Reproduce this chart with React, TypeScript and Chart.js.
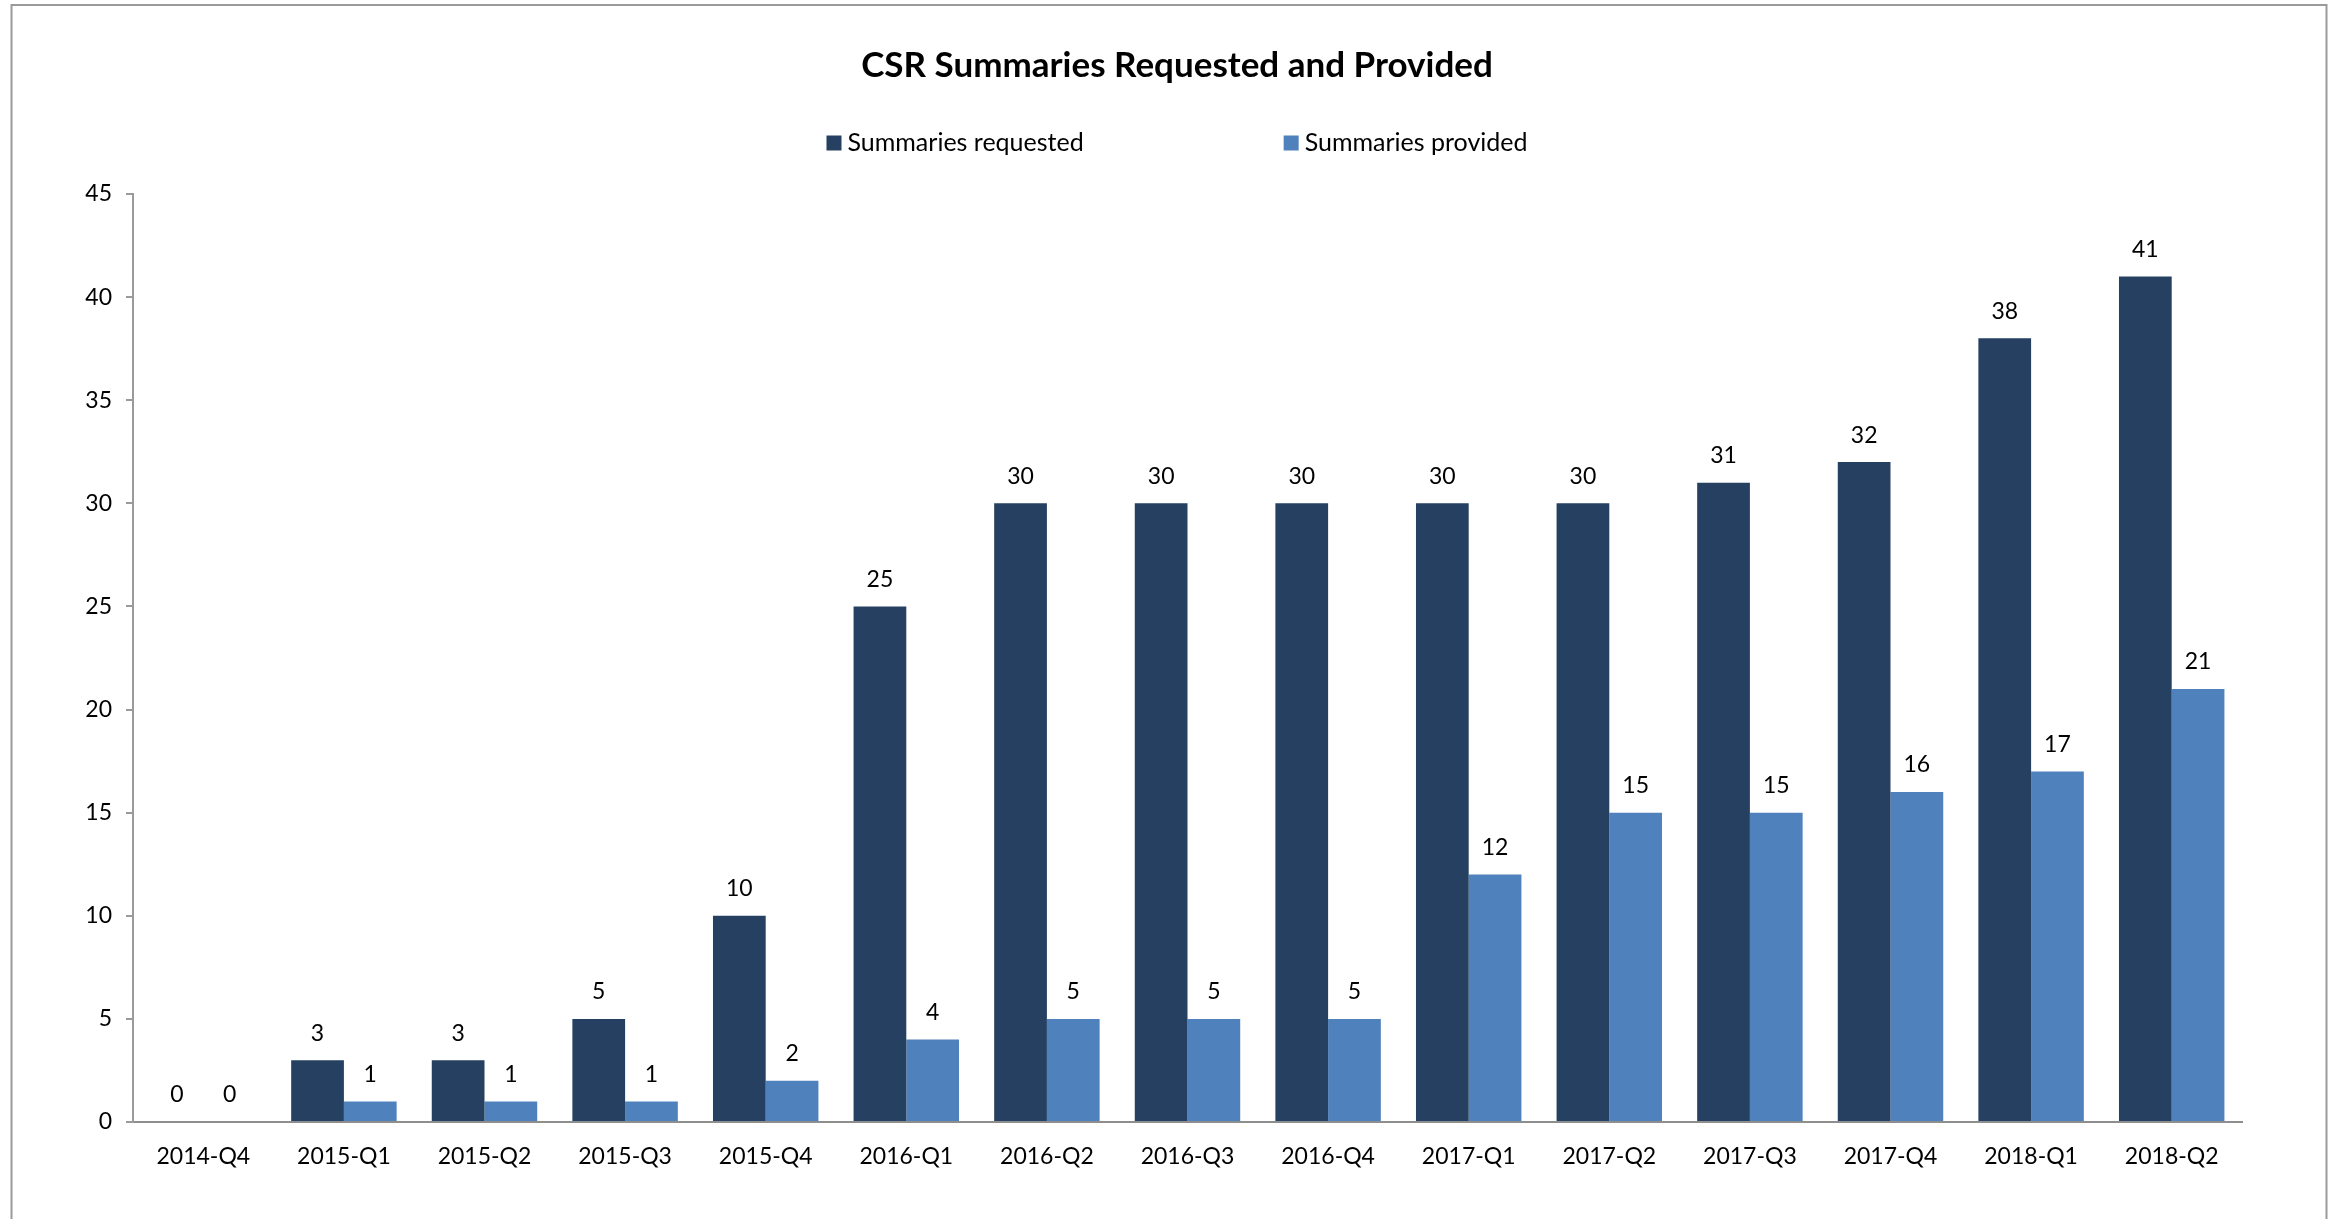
import React, { useEffect, useRef } from "react";
import { Chart, registerables } from "chart.js";

Chart.register(...registerables);

const categories = [
  "2014-Q4", "2015-Q1", "2015-Q2", "2015-Q3", "2015-Q4", "2016-Q1", "2016-Q2", "2016-Q3",
  "2016-Q4", "2017-Q1", "2017-Q2", "2017-Q3", "2017-Q4", "2018-Q1", "2018-Q2",
];
const requested = [0, 3, 3, 5, 10, 25, 30, 30, 30, 30, 30, 31, 32, 38, 41];
const provided = [0, 1, 1, 1, 2, 4, 5, 5, 5, 12, 15, 15, 16, 17, 21];
const seriesNames = ["Summaries requested", "Summaries provided"];
const seriesColors = ["#254061", "#4F81BD"];
const titleText = "CSR Summaries Requested and Provided";

const FONT = "Lato, 'Open Sans', sans-serif";

const framePlugin = {
  id: "frame",
  beforeDraw(chart: any) {
    const ctx = chart.ctx;
    ctx.save();
    ctx.fillStyle = "#ffffff";
    ctx.fillRect(0, 0, chart.width, chart.height);
    ctx.strokeStyle = "#9a9a9a";
    ctx.lineWidth = 2;
    ctx.strokeRect(11.5, 5, chart.width - 21, chart.height + 40);
    ctx.restore();
  },
};

const dataLabelPlugin = {
  id: "dataLabels",
  afterDatasetsDraw(chart: any) {
    const ctx = chart.ctx;
    ctx.save();
    ctx.font = `23px ${FONT}`;
    ctx.fillStyle = "#000000";
    ctx.textAlign = "center";
    ctx.textBaseline = "middle";
    chart.data.datasets.forEach((ds: any, i: number) => {
      const meta = chart.getDatasetMeta(i);
      meta.data.forEach((el: any, j: number) => {
        ctx.fillText(String(ds.data[j]), el.x, el.y - 27);
      });
    });
    ctx.restore();
  },
};

const legendPlugin = {
  id: "customLegend",
  afterDraw(chart: any) {
    const ctx = chart.ctx;
    ctx.save();
    ctx.font = `25px ${FONT}`;
    ctx.textBaseline = "middle";
    ctx.textAlign = "left";
    const box = 15;
    const gap = 6;
    const spacing = 200;
    const widths = seriesNames.map((n) => ctx.measureText(n).width);
    const total = widths.reduce((a, w) => a + box + gap + w, 0) + spacing * (seriesNames.length - 1);
    const cy = 143;
    let x = 1177 - total / 2;
    seriesNames.forEach((n, i) => {
      ctx.fillStyle = seriesColors[i];
      ctx.fillRect(x, cy - box / 2, box, box);
      ctx.fillStyle = "#000000";
      ctx.fillText(n, x + box + gap, cy);
      x += box + gap + widths[i] + spacing;
    });
    ctx.restore();
  },
};

export default function App() {
  const ref = useRef<HTMLCanvasElement | null>(null);
  useEffect(() => {
    if (!ref.current) return;
    const chart = new Chart(ref.current, {
      type: "bar",
      data: {
        labels: categories,
        datasets: [
          { label: seriesNames[0], data: requested, backgroundColor: seriesColors[0], borderWidth: 0, categoryPercentage: 0.75, barPercentage: 1.0 },
          { label: seriesNames[1], data: provided, backgroundColor: seriesColors[1], borderWidth: 0, categoryPercentage: 0.75, barPercentage: 1.0 },
        ],
      },
      options: {
        responsive: false,
        animation: false,
        layout: { padding: { left: 18, right: 0, top: 0, bottom: 0 } },
        plugins: {
          legend: { display: false },
          tooltip: { enabled: false },
          title: {
            display: true,
            text: titleText,
            color: "#000000",
            font: { family: FONT, size: 35, weight: "bold", lineHeight: 1.2 },
            padding: { top: 45, bottom: 107 },
          },
        },
        scales: {
          x: {
            grid: { display: true, drawOnChartArea: false, drawTicks: false },
            border: { display: true, color: "#8e8e8e", width: 2 },
            ticks: { color: "#000000", font: { family: FONT, size: 23 }, padding: 21, maxRotation: 0, autoSkip: false },
            afterFit: (s: any) => { s.height = 97; },
          },
          y: {
            min: 0,
            max: 45,
            ticks: { stepSize: 5, color: "#000000", font: { family: FONT, size: 23 }, padding: 14 },
            grid: { display: true, drawOnChartArea: false, drawTicks: true, tickLength: 7, color: "#9a9a9a", lineWidth: 2 },
            border: { display: true, color: "#9a9a9a", width: 2 },
            afterFit: (s: any) => { s.width = 115; },
          },
          y2: {
            position: "right",
            display: true,
            grid: { display: false },
            border: { display: false },
            ticks: { display: false },
            afterFit: (s: any) => { s.width = 94; },
          },
        },
      },
      plugins: [framePlugin, dataLabelPlugin, legendPlugin],
    } as any);
    return () => chart.destroy();
  }, []);
  return (
    <div style={{ position: "fixed", left: 0, top: 0, width: 2336, height: 1219, background: "#fff" }}>
      <canvas ref={ref} width={2336} height={1219} />
    </div>
  );
}
